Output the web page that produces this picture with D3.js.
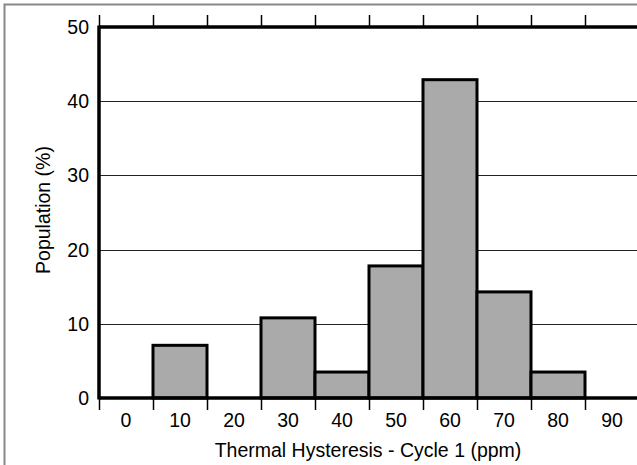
<!DOCTYPE html>
<head>
<meta charset="utf-8">
<script src="https://d3js.org/d3.v7.min.js"></script>
<style>
  body { margin: 0; background: #fff; }
  text { font-family: "Liberation Sans", Arial, sans-serif; fill: #000; }
</style>
</head>
<body>
<script>

// histogram bins (ppm) and population (%)
var bins = ["0", "10", "20", "30", "40", "50", "60", "70", "80", "90"];
var population = [0, 7.1, 0, 10.8, 3.5, 17.8, 42.9, 14.3, 3.5, 0];
var yTicks = [0, 10, 20, 30, 40, 50];

var width = 637, height = 465;
var margin = {left: 99, top: 27, right: -2, bottom: 67};
var fs = "19.5px";

var svg = d3.select("body").append("svg")
    .attr("width", width)
    .attr("height", height);

// outer gray frame
svg.append("rect")
    .attr("x", 4.5).attr("y", 4.5)
    .attr("width", width + 20).attr("height", height + 20)
    .attr("fill", "none")
    .attr("stroke", "#888")
    .attr("stroke-width", 2);

var x = d3.scaleBand()
    .domain(bins)
    .range([margin.left, width - margin.right])
    .padding(0);

var y = d3.scaleLinear()
    .domain([0, 50])
    .range([height - margin.bottom, margin.top]);

// gridlines
svg.append("g")
    .selectAll("line")
    .data(yTicks.filter(function (d) { return d > 0 && d < 50; }))
    .enter().append("line")
    .attr("x1", margin.left).attr("x2", width)
    .attr("y1", function (d) { return Math.round(y(d)) + 0.5; })
    .attr("y2", function (d) { return Math.round(y(d)) + 0.5; })
    .attr("stroke", "#222")
    .attr("stroke-width", 1);

// bars
svg.append("g")
    .selectAll("rect")
    .data(bins.filter(function (d, i) { return population[i] > 0; }))
    .enter().append("rect")
    .attr("x", function (d) { return x(d); })
    .attr("width", x.bandwidth())
    .attr("y", function (d) { return y(population[bins.indexOf(d)]); })
    .attr("height", function (d) { return y(0) - y(population[bins.indexOf(d)]); })
    .attr("fill", "#aaaaaa")
    .attr("stroke", "#000")
    .attr("stroke-width", 3);

// frame lines: left, top, bottom
var fr = svg.append("g").attr("stroke", "#000").attr("stroke-width", 3.5);
fr.append("line").attr("x1", margin.left).attr("x2", margin.left)
    .attr("y1", y(50) - 1.5).attr("y2", y(0) + 1.5);
fr.append("line").attr("x1", margin.left).attr("x2", width)
    .attr("y1", y(50)).attr("y2", y(50));
fr.append("line").attr("x1", margin.left).attr("x2", width)
    .attr("y1", y(0)).attr("y2", y(0));

// bin boundary ticks top and bottom
var edges = bins.map(function (d) { return x(d); });
svg.append("g").selectAll("line")
    .data(edges)
    .enter().append("line")
    .attr("x1", function (d) { return Math.round(d) + 0.5; })
    .attr("x2", function (d) { return Math.round(d) + 0.5; })
    .attr("y1", y(0)).attr("y2", y(0) + 12)
    .attr("stroke", "#000").attr("stroke-width", 1.5);
svg.append("g").selectAll("line")
    .data(edges)
    .enter().append("line")
    .attr("x1", function (d) { return Math.round(d) + 0.5; })
    .attr("x2", function (d) { return Math.round(d) + 0.5; })
    .attr("y1", y(50) - 12).attr("y2", y(50))
    .attr("stroke", "#000").attr("stroke-width", 1.5);

// x tick labels
svg.append("g").selectAll("text")
    .data(bins)
    .enter().append("text")
    .attr("x", function (d) { return x(d) + x.bandwidth() / 2; })
    .attr("y", y(0) + 29)
    .attr("text-anchor", "middle")
    .style("font-size", fs)
    .text(function (d) { return d; });

// y tick labels
svg.append("g").selectAll("text")
    .data(yTicks)
    .enter().append("text")
    .attr("x", margin.left - 10)
    .attr("y", function (d) { return y(d) + 7; })
    .attr("text-anchor", "end")
    .style("font-size", fs)
    .text(function (d) { return d; });

// axis titles
svg.append("text")
    .attr("x", 368)
    .attr("y", 457)
    .attr("text-anchor", "middle")
    .style("font-size", fs)
    .text("Thermal Hysteresis - Cycle 1 (ppm)");

svg.append("text")
    .attr("transform", "translate(50,210) rotate(-90)")
    .attr("text-anchor", "middle")
    .style("font-size", fs)
    .text("Population (%)");

</script>
</body>
